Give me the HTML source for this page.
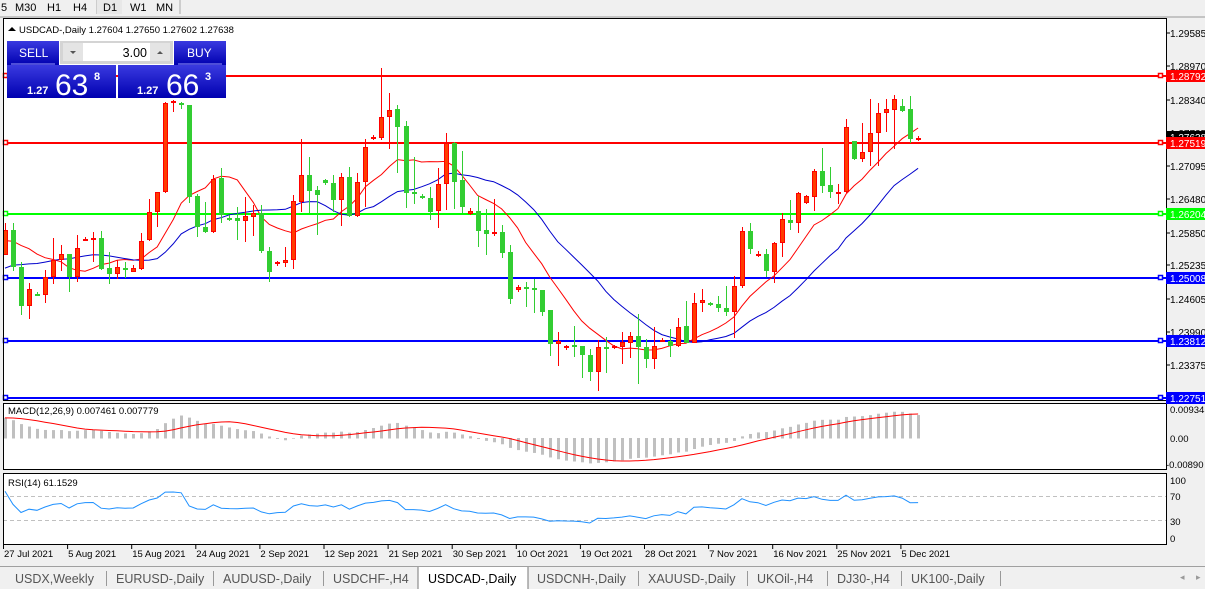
<!DOCTYPE html>
<html><head><meta charset="utf-8">
<style>
html,body{margin:0;padding:0;width:1205px;height:589px;overflow:hidden;background:#fff;font-family:"Liberation Sans",sans-serif;}
svg{position:absolute;left:0;top:0}
</style></head><body>
<svg id="s" width="1205" height="589" xmlns="http://www.w3.org/2000/svg" font-family="Liberation Sans, sans-serif"></svg>
<script>
const S=document.getElementById('s');let h='';
function R(x,y,w,hh,f,extra){h+=`<rect x="${x}" y="${y}" width="${w}" height="${hh}" fill="${f}" ${extra||''}/>`;}
function L(x1,y1,x2,y2,c,w,extra){h+=`<line x1="${x1}" y1="${y1}" x2="${x2}" y2="${y2}" stroke="${c}" stroke-width="${w||1}" ${extra||''}/>`;}
function T(x,y,t,s,c,extra){h+=`<text x="${x}" y="${y}" font-size="${s}" fill="${c||'#000'}" ${extra||''}>${t}</text>`;}
R(0,0,1205,589,'#f0f0f0');
R(3,18,1163,527,'#fff');
T(1,11,'5',11);T(15,11,'M30',11);T(47,11,'H1',11);T(73,11,'H4',11);
L(97,0,97,14,'#aaa');R(97,0,25,14,'#e8e8e8');T(103,11,'D1',11);T(130,11,'W1',11);T(156,11,'MN',11);L(180,0,180,14,'#aaa');
L(0,17,1205,17,'#999');
const D=[['r',230,255,223,255],['g',230,267,223,271],['g',267,306,262,315],['r',289,306,283,319],['g',294,295,292,296],['r',277,295,270,303],['r',260,277,238,284],['r',254,260,245,271],['g',254,277,254,292],['r',248,277,235,282],['r',239,240,237,241],['r',238,240,232,262],['g',238,269,231,270],['g',268,274,252,284],['r',267,274,260,279],['g',268,269,262,278],['r',268,272,265,272],['r',241,269,233,270],['r',212,240,199,241],['r',192,212,192,227],['r',103,192,102,193],['r',101,103,100,112],['g',103,105,102,109],['g',105,197,105,203],['g',196,227,194,237],['g',227,232,202,233],['r',179,232,175,233],['g',178,215,168,223],['g',218,219,215,221],['g',218,221,207,240],['r',216,221,197,242],['r',213,217,205,236],['g',213,251,205,253],['g',251,272,247,282],['r',262,264,261,266],['r',260,263,247,267],['r',201,260,195,269],['r',175,202,139,212],['g',175,191,157,213],['g',190,195,186,235],['g',180,183,179,185],['g',183,200,175,212],['r',177,200,173,226],['g',177,216,167,217],['r',182,216,173,217],['r',147,182,139,207],['r',137,138,135,140],['r',117,138,68,140],['r',110,117,93,149],['g',109,127,105,173],['g',126,193,121,208],['g',192,193,157,204],['g',196,198,194,199],['g',198,212,187,220],['r',184,211,168,228],['r',143,184,133,210],['g',143,182,142,209],['g',180,207,151,213],['r',211,214,208,215],['g',211,231,196,247],['g',230,234,209,255],['r',232,234,199,236],['g',232,253,225,258],['g',252,299,245,304],['r',287,290,285,292],['g',287,288,282,307],['g',288,290,279,313],['g',290,312,290,316],['g',310,344,310,356],['r',341,344,332,366],['r',346,348,345,350],['g',345,347,326,357],['g',346,355,346,378],['g',355,372,349,381],['r',347,372,340,391],['g',347,349,337,373],['r',346,348,345,349],['r',342,347,332,364],['r',336,343,332,358],['g',336,347,314,384],['g',347,359,339,368],['r',346,359,327,369],['r',340,341,338,342],['g',341,346,329,357],['r',327,346,318,347],['g',326,343,301,343],['r',303,343,293,343],['r',300,303,289,312],['g',303,305,302,306],['g',304,308,296,312],['g',308,312,286,316],['r',286,312,276,338],['r',231,286,227,288],['g',231,249,223,254],['r',254,255,251,257],['g',254,271,249,277],['r',243,272,242,283],['r',219,243,213,257],['g',220,223,200,230],['r',193,223,192,233],['r',196,203,195,204],['r',171,197,169,211],['g',171,186,148,193],['g',185,192,167,198],['r',192,193,184,204],['r',127,192,119,193],['g',141,159,141,160],['r',152,159,123,162],['r',133,152,99,166],['r',113,133,103,166],['r',109,113,99,132],['r',99,110,95,149],['g',106,111,99,112],['g',109,139,96,143],['r',138,139,136,141]];
const X=i=>5+i*8.01;
const yP=y=>1.28792-(y-75.5)/5339, Py=p=>75.5+(1.28792-p)*5339;
let closes=D.map(d=>yP(d[0]=='r'?d[1]:d[2]));
let pad=[];for(let i=0;i<40;i++){pad.push(1.220+i*0.00105+0.0012*Math.sin(i*1.7));}
let all=pad.concat(closes);const P=pad.length;
const lv=[[1.28792,'#ff0000','1.28792','#fff'],[1.27519,'#ff0000','1.27519','#fff'],[1.26204,'#00ff00','1.26204','#fff'],[1.25008,'#0000ff','1.25008','#fff'],[1.23812,'#0000ff','1.23812','#fff'],[1.22751,'#0000ff','1.22751','#fff']];
lv.forEach(l=>{const y=Math.round(Py(l[0]));L(3,y,1166,y,l[1],2);h+=`<rect x="3.5" y="${y-2.5}" width="4" height="4" fill="#fff" stroke="${l[1]}" stroke-width="1.5"/><rect x="1158.5" y="${y-2.5}" width="4" height="4" fill="#fff" stroke="${l[1]}" stroke-width="1.5"/>`;});
function sma(n){return all.map((v,i)=>{let a=0,c=0;for(let k=Math.max(0,i-n+1);k<=i;k++){a+=all[k];c++;}return a/c;});}
function path(arr,c){let s='';for(let i=0;i<D.length;i++){s+=(i?'L':'M')+X(i).toFixed(1)+' '+Py(arr[i+P]).toFixed(1);}h+=`<path d="${s}" fill="none" stroke="${c}" stroke-width="1"/>`;}
path(sma(10),'#ff0000');path(sma(20),'#0000cc');
D.forEach((d,i)=>{const x=Math.round(X(i));const g=d[0]=='g';const c=g?'#32cd32':'#ff0000';
L(x+0.5,d[3],x+0.5,d[4],c,1);
const hh=Math.max(1,d[2]-d[1]);
if(hh<=2){R(x-2,d[1],5,2,c);}else h+=`<rect x="${x-1.5}" y="${d[1]+0.5}" width="4" height="${hh-1}" fill="${g?'#32cd32':'#ff3c00'}" stroke="${c}" stroke-width="1"/>`;});
function ema(arr,n){const k=2/(n+1);let o=[];arr.forEach((v,i)=>o.push(i?v*k+o[i-1]*(1-k):v));return o;}
const e12=ema(all,12),e26=ema(all,26);const macd=all.map((v,i)=>e12[i]-e26[i]);
const sig=macd.map((v,i)=>{let a=0,c=0;for(let k=Math.max(0,i-8);k<=i;k++){a+=macd[k];c++;}return a/c;});
const mY=v=>Math.max(404,Math.min(469,438-v*3100));
for(let i=0;i<D.length;i++){const x=Math.round(X(i));const v=macd[i+P];const y=mY(v);R(x-1,Math.min(y,438),3,Math.abs(438-y)+0.5,'#c0c0c0');}
{let s='';for(let i=0;i<D.length;i++)s+=(i?'L':'M')+X(i).toFixed(1)+' '+mY(sig[i+P]).toFixed(1);h+=`<path d="${s}" fill="none" stroke="#ff0000" stroke-width="1"/>`;}
let rsi=[],ag=0,al=0;for(let i=1;i<all.length;i++){const d=all[i]-all[i-1];const g=Math.max(d,0),l=Math.max(-d,0);if(i<=14){ag+=g/14;al+=l/14;}else{ag=(ag*13+g)/14;al=(al*13+l)/14;}rsi[i]=al==0?100:100-100/(1+ag/al);}
const rY=v=>538-v*0.58;
L(3,496.5,1166,496.5,'#c0c0c0',1,'stroke-dasharray="4,3"');L(3,520.5,1166,520.5,'#c0c0c0',1,'stroke-dasharray="4,3"');
{let s='';for(let i=0;i<D.length;i++)s+=(i?'L':'M')+X(i).toFixed(1)+' '+rY(rsi[i+P]).toFixed(1);h+=`<path d="${s}" fill="none" stroke="#1e90ff" stroke-width="1"/>`;}
R(3,401,1163,2,'#f0f0f0');R(3,470,1163,3,'#f0f0f0');
h+=`<rect x="3.5" y="18.5" width="1163" height="382" fill="none" stroke="#000"/>`;
h+=`<rect x="3.5" y="403.5" width="1163" height="66" fill="none" stroke="#000"/>`;
h+=`<rect x="3.5" y="473.5" width="1163" height="71" fill="none" stroke="#000"/>`;
T(8,414,'MACD(12,26,9) 0.007461 0.007779',9.5);T(8,486,'RSI(14) 61.1529',9.5);
[['1.29585',33],['1.28970',66],['1.28340',100],['1.27725',133],['1.27095',166],['1.26480',199],['1.25850',233],['1.25235',265],['1.24605',299],['1.23990',332],['1.23375',365]].forEach(a=>{L(1166,a[1],1170,a[1],'#000');T(1170,a[1]+4,a[0],10);});
R(1166,131,39,12,'#000');T(1170,141,'1.27638',10,'#fff');
lv.forEach(l=>{const y=Math.round(Py(l[0]));R(1166,y-6,39,12,l[1]);T(1170,y+4,l[2],10,l[3]);});
T(1170,413,'0.009345',9.5);T(1170,442,'0.00',9.5);T(1166,468,'-0.00890',9.5);
T(1170,484,'100',9.5);T(1170,500,'70',9.5);T(1170,525,'30',9.5);T(1170,542,'0',9.5);
['27 Jul 2021','5 Aug 2021','15 Aug 2021','24 Aug 2021','2 Sep 2021','12 Sep 2021','21 Sep 2021','30 Sep 2021','10 Oct 2021','19 Oct 2021','28 Oct 2021','7 Nov 2021','16 Nov 2021','25 Nov 2021','5 Dec 2021'].forEach((t,i)=>{const x=3+i*64.1;L(x+0.5,545,x+0.5,549,'#000');T(x+1,557,t,9.5);});
h+=`<path d="M8 31 L12 27 L16 31 Z" fill="#000"/>`;T(19,33,'USDCAD-,Daily  1.27604 1.27650 1.27602 1.27638',9.5);
h+=`<defs><linearGradient id="gb" x1="0" y1="0" x2="0" y2="1"><stop offset="0" stop-color="#3a3ae0"/><stop offset="1" stop-color="#0000b0"/></linearGradient></defs>`;
R(7,41,52,24,'url(#gb)');R(174,41,52,24,'url(#gb)');
R(60,41,113,23,'#d4d4d4');R(63,43,20,18,'#e4e4e4');R(83,43,67,18,'#fff');R(150,43,20,18,'#e4e4e4');
h+=`<path d="M70 51 L76 51 L73 54Z" fill="#555"/><path d="M157 54 L163 54 L160 51Z" fill="#555"/>`;
T(147,57,'3.00',12.5,'#000','text-anchor="end"');
T(19,57,'SELL',12,'#fff');T(187,57,'BUY',12,'#fff');
L(11,64,55,64,'#9999ff');L(178,64,222,64,'#9999ff');
R(7,65,109,33,'url(#gb)');R(118,65,108,33,'url(#gb)');
T(27,94,'1.27',11,'#fff','font-weight="bold"');T(55,95,'63',30,'#fff');T(94,80,'8',11,'#fff','font-weight="bold"');
T(137,94,'1.27',11,'#fff','font-weight="bold"');T(166,95,'66',30,'#fff');T(205,80,'3',11,'#fff','font-weight="bold"');
R(0,566,1205,23,'#f0f0f0');L(0,566.5,1205,566.5,'#a0a0a0');
const tabs=[['USDX,Weekly',15],['EURUSD-,Daily',116],['AUDUSD-,Daily',223],['USDCHF-,H4',333],['USDCAD-,Daily',428],['USDCNH-,Daily',537],['XAUUSD-,Daily',648],['UKOil-,H4',757],['DJ30-,H4',837],['UK100-,Daily',911]];
R(418,567,110,22,'#fff');L(418,567,418,589,'#777');L(528,567,528,589,'#777');
tabs.forEach((t,i)=>{T(t[1],583,t[0],12.5,i==4?'#000':'#555');if(i!=3&&i!=4&&i<9){const nx=tabs[i+1][1]-10;L(nx+0.5,571,nx+0.5,586,'#999');}});
L(1000.5,571,1000.5,586,'#999');
T(1180,580,'◂',9,'#999');T(1196,580,'▸',9,'#999');
S.innerHTML=h;
</script>
</body></html>
